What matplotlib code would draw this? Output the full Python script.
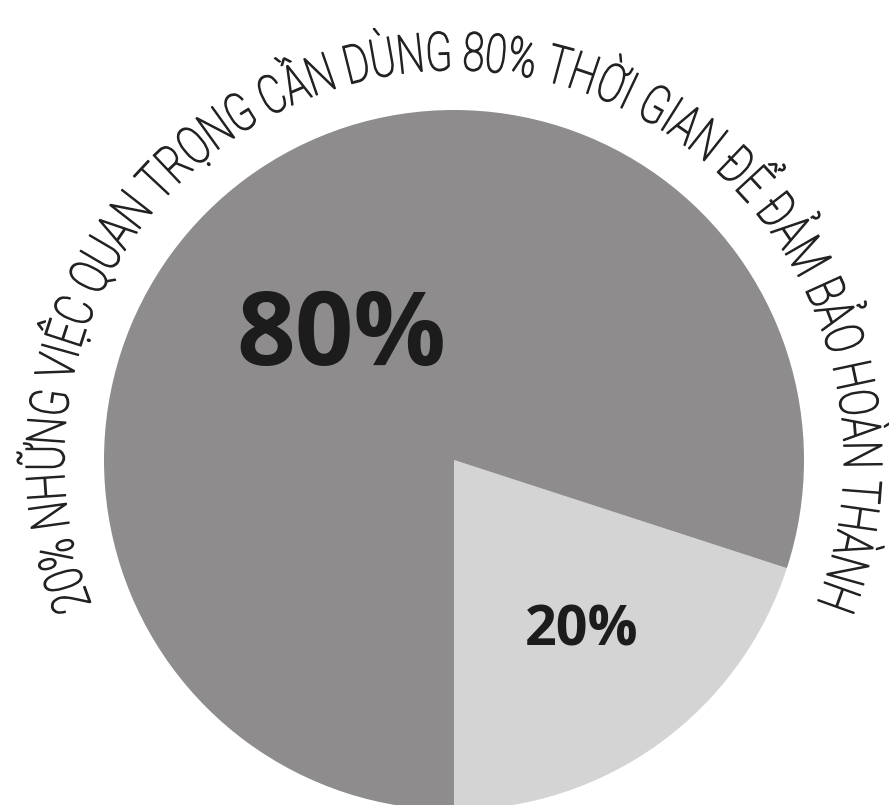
import numpy as np
import matplotlib
matplotlib.use("Agg")
import matplotlib.pyplot as plt
from matplotlib import patheffects
from matplotlib.transforms import Affine2D
from matplotlib.font_manager import FontProperties

# data
shares = [20, 80]
share_labels = ["20%", "80%"]
arc_title = "20% NHỮNG VIỆC QUAN TRỌNG CẦN DÙNG 80% THỜI GIAN ĐỂ ĐẢM BẢO HOÀN THÀNH"

# style
W, H = 889, 805
slice_colors = ["#d4d4d4", "#8e8c8d"]
label_dist = [0.61, 0.473]
label_turn = [0.6, 7.0]   # degrees off the slice middle
label_size = [40, 74]


class Squeeze(patheffects.AbstractPathEffect):
    """Narrow each glyph horizontally (fake condensed font), with a thin outline."""

    def __init__(self, sx, lw=0.0):
        super().__init__()
        self.sx = sx
        self.lw = lw

    def draw_path(self, renderer, gc, tpath, affine, rgbFace=None):
        ext = tpath.get_extents()
        mid = (ext.x0 + ext.x1) / 2
        t = Affine2D().translate(-mid, 0).scale(self.sx, 1).translate(mid, 0) + affine
        gc0 = renderer.new_gc()
        gc0.copy_properties(gc)
        gc0.set_linewidth(self.lw)
        gc0.set_foreground(rgbFace)
        renderer.draw_path(gc0, tpath, t, rgbFace)
        gc0.restore()


fig = plt.figure(figsize=(W / 100, H / 100), dpi=100)
ax = fig.add_axes([0, 0, 1, 1])

# pie in pixel units
cx, cy, R = 454, H - 460, 350
wedges, _ = ax.pie(shares, colors=slice_colors, startangle=-90, counterclock=True,
                   radius=R, center=(cx, cy), wedgeprops=dict(linewidth=0))
ax.set_xlim(0, W)
ax.set_ylim(0, H)
ax.set_aspect("equal")
ax.axis("off")

# percentage labels inside the slices
for w, lab, d, turn, size in zip(wedges, share_labels, label_dist, label_turn, label_size):
    mid = np.deg2rad((w.theta1 + w.theta2) / 2 + turn)
    ax.text(cx + d * R * np.cos(mid), cy + d * R * np.sin(mid), lab,
            ha="center", va="center", fontsize=size, fontweight="bold",
            family=["Open Sans", "DejaVu Sans"], color="#1c1c1c")

# curved title along the outside of the pie
fp = FontProperties(family=["Roboto", "DejaVu Sans"], weight="light", size=38.5)
renderer = fig.canvas.get_renderer()


def text_w(s):
    return renderer.get_text_width_height_descent(s, fp, ismath=False)[0]


base = text_w("II")
adv = [text_w("I" + c + "I") - base for c in arc_title]

r_text = 390
a_start, a_end = np.deg2rad(201.8), np.deg2rad(-21.7)
arc_len = r_text * (a_start - a_end)
sx = arc_len / sum(adv)

pos = 0.0
for c, a in zip(arc_title, adv):
    centre = (pos + a / 2) * sx
    pos += a
    if c == " ":
        continue
    ang = a_start - centre / r_text
    ax.text(cx + r_text * np.cos(ang), cy + r_text * np.sin(ang), c,
            fontproperties=fp, rotation=np.rad2deg(ang) - 90, rotation_mode="anchor",
            ha="center", va="baseline", color="#222222",
            path_effects=[Squeeze(sx, lw=1.0)])

fig.savefig("out.png", dpi=100)
